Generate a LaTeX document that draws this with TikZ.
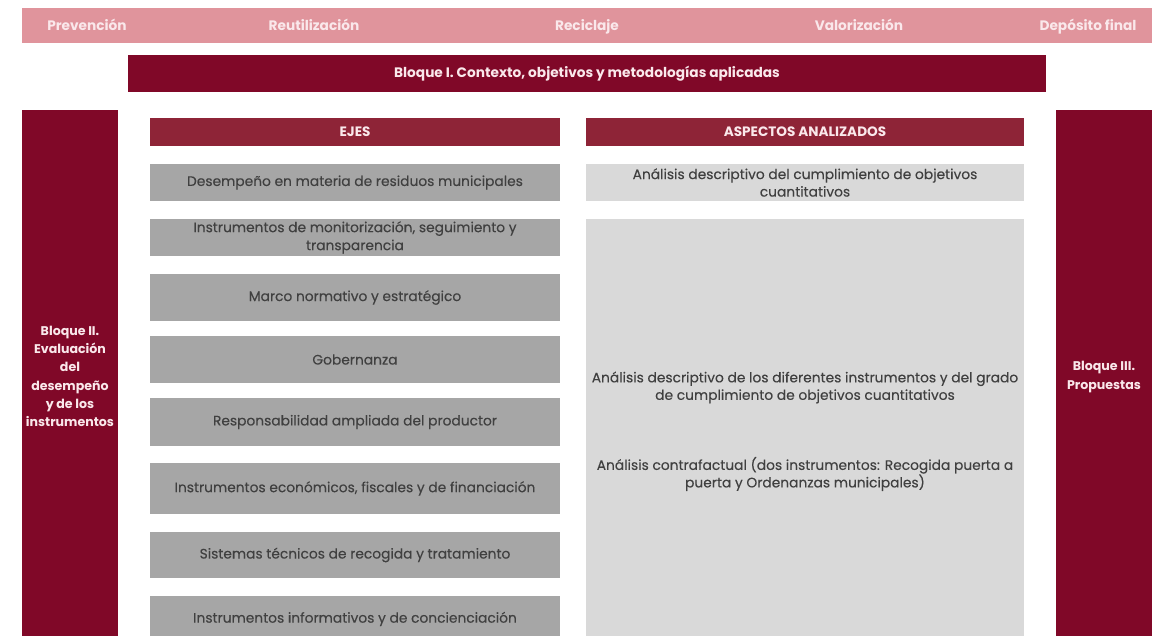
\documentclass[tikz,border=0pt]{standalone}
\usepackage{fontspec}
\setmainfont{Poppins}
\newfontfamily\medfont{Poppins}[FakeBold=0.25]
\definecolor{bandpink}{RGB}{224,148,156}
\definecolor{darkred}{RGB}{128,8,40}
\definecolor{headred}{RGB}{142,36,55}
\definecolor{midgray}{RGB}{166,166,166}
\definecolor{lightgray}{RGB}{217,217,217}
\definecolor{paletext}{RGB}{250,232,235}
\definecolor{darktext}{RGB}{64,64,64}
\begin{document}
\begin{tikzpicture}[x=1pt,y=-1pt,
  every node/.style={inner sep=0pt, outer sep=0pt},
  band/.style={fill=bandpink, draw=none},
  bandtxt/.style={text=paletext, anchor=base, font=\fontsize{13.7}{16}\selectfont\bfseries},
  block/.style={fill=darkred, draw=none, text=paletext, align=center, font=\fontsize{13.7}{18.3}\selectfont\bfseries},
  blocktxt/.style={text=paletext, align=center, font=\fontsize{12.6}{18.3}\selectfont\bfseries},
  head/.style={fill=headred, draw=none, text=paletext, font=\fontsize{13.6}{16}\selectfont\bfseries},
  eje/.style={fill=midgray, draw=none, text=darktext, align=center, minimum width=410pt, font=\fontsize{13.8}{18}\selectfont\medfont},
  aspect/.style={fill=lightgray, draw=none, text=darktext, align=center, minimum width=438pt, font=\fontsize{13.8}{17.5}\selectfont\medfont},
  aspecttxt/.style={text=darktext, align=center, font=\fontsize{13.8}{17.5}\selectfont\medfont}
]
\clip (0,0) rectangle (1176,636);
\fill[white] (0,0) rectangle (1176,636);
% top band
\node[band, minimum width=1130pt, minimum height=35pt] (band) at (587,25.5) {};
\node[bandtxt] (t1) at (87,30.5) {Prevención};
\node[bandtxt] (t2) at (314,30.5) {Reutilización};
\node[bandtxt] (t3) at (587,30.5) {Reciclaje};
\node[bandtxt] (t4) at (859,30.5) {Valorización};
\node[bandtxt] (t5) at (1088,30.5) {Depósito final};
% bloque I
\node[block, minimum width=918pt, minimum height=37pt] (b1) at (587,73.5) {Bloque I. Contexto, objetivos y metodologías aplicadas};
% side columns
\node[block, minimum width=96pt, minimum height=526pt] (b2) at (70,373) {};
\node[blocktxt] (b2t) at (70,376.5) {Bloque II.\\Evaluación\\del\\desempeño\\y de los\\instrumentos};
\node[block, minimum width=96pt, minimum height=526pt] (b3) at (1104,373) {};
\node[blocktxt] (b3t) at (1104,377) {Bloque III.\\Propuestas};
% headers
\node[head, minimum width=410pt, minimum height=28pt] (ejes) at (355,132) {EJES};
\node[head, minimum width=438pt, minimum height=28pt] (asp) at (805,132) {ASPECTOS ANALIZADOS};
% ejes
\node[eje, minimum height=37pt] (e1) at (355,182.5) {Desempeño en materia de residuos municipales};
\node[eje, minimum height=37pt] (e2) at (355,237.5) {Instrumentos de monitorización, seguimiento y\\transparencia};
\node[eje, minimum height=47pt] (e3) at (355,297.5) {Marco normativo y estratégico};
\node[eje, minimum height=47pt] (e4) at (355,359.5) {Gobernanza};
\node[eje, minimum height=48pt] (e5) at (355,422) {Responsabilidad ampliada del productor};
\node[eje, minimum height=51pt] (e6) at (355,488.5) {Instrumentos económicos, fiscales y de financiación};
\node[eje, minimum height=46pt] (e7) at (355,555) {Sistemas técnicos de recogida y tratamiento};
\node[eje, minimum height=46pt] (e8) at (355,619) {Instrumentos informativos y de concienciación};
% aspectos
\node[aspect, minimum height=37pt] (a1) at (805,182.5) {Análisis descriptivo del cumplimiento de objetivos\\cuantitativos};
\node[aspect, minimum height=430pt] (a2) at (805,434) {};
\node[aspecttxt] (a2t) at (805,387.5) {Análisis descriptivo de los diferentes instrumentos y del grado\\de cumplimiento de objetivos cuantitativos};
\node[aspecttxt] (a3t) at (805,474) {Análisis contrafactual (dos instrumentos: Recogida puerta a\\puerta y Ordenanzas municipales)};
\end{tikzpicture}
\end{document}
